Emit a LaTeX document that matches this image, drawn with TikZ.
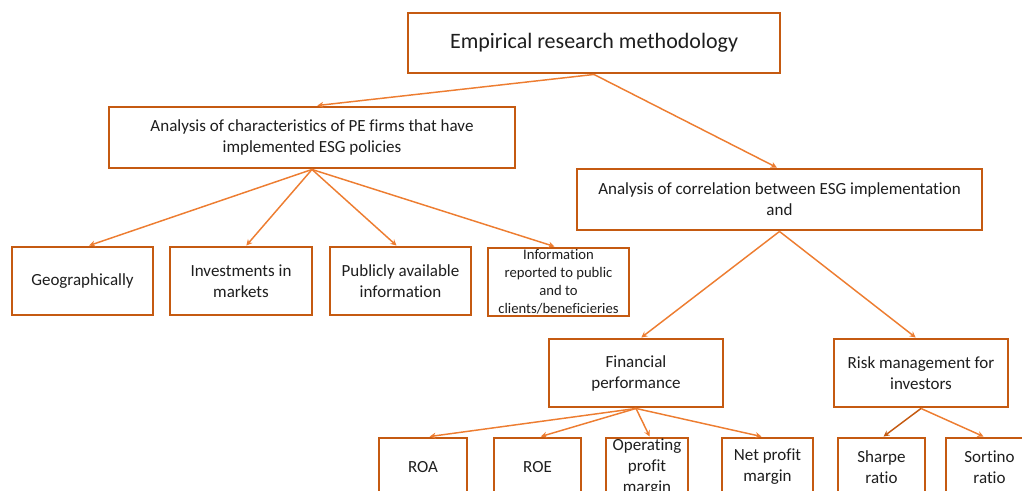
\documentclass[tikz,border=0pt]{standalone}
\usepackage{fontspec}
\setmainfont{Carlito}[Ligatures=NoCommon]
\usetikzlibrary{arrows.meta}
\definecolor{boxc}{RGB}{197,90,17}
\definecolor{arrc}{RGB}{237,125,49}
\definecolor{txtc}{RGB}{30,30,30}
\tikzset{
  bx/.style n args={2}{draw=boxc, line width=2.2pt, fill=white, text=txtc, align=center, inner sep=0pt,
    minimum width=#1*0.75pt, minimum height=#2*0.75pt,
    font={\fontsize{12.75}{15.75}\selectfont}},
  conn/.style={draw=arrc, line width=1.1pt, -{Stealth[length=4.5pt,width=4.5pt]}},
  darkconn/.style={conn, draw=boxc},
}
\begin{document}
\begin{tikzpicture}[x=0.75pt,y=-0.75pt]
\useasboundingbox (0,0) rectangle (1022,491);
\clip (0,0) rectangle (1022,491);
\node[bx={372}{60}, font={\fontsize{16.5}{20}\selectfont}] (top) at (594,43) {Empirical research methodology};
\node[bx={406}{61}] (a1) at (312,137.5) {Analysis of characteristics of PE firms that have\\implemented ESG policies};
\node[bx={405}{61}] (a2) at (779.5,199.5) {Analysis of correlation between ESG implementation\\and};
\node[bx={141}{68}] (geo) at (82.5,281) {Geographically};
\node[bx={142}{68}] (inv) at (241,281) {Investments in\\markets};
\node[bx={141}{68}] (pub) at (400.5,281) {Publicly available\\information};
\node[bx={141}{68}, font={\fontsize{11}{13.5}\selectfont}] (info) at (558.5,282) {Information\\reported to public\\and to\\clients/beneficieries};
\node[bx={174}{68}] (fin) at (636,373) {Financial\\performance};
\node[bx={174}{68}] (risk) at (921,373) {Risk management for\\investors};
\node[bx={88}{58}] (roa) at (423,467) {ROA};
\node[bx={87}{58}] (roe) at (537.5,467) {ROE};
\node[bx={82}{58}] (op) at (647,467) {Operating\\profit\\margin};
\node[bx={91}{58}] (net) at (767.5,467) {Net profit\\margin};
\node[bx={87}{58}] (sharpe) at (881.5,467) {Sharpe\\ratio};
\node[bx={87}{58}] (sortino) at (989.5,467) {Sortino\\ratio};

\draw[conn] (top.south) -- ([xshift=4]a1.north);
\draw[conn] (top.south) -- ([xshift=-2]a2.north);
\draw[conn] (a1.south) -- ([xshift=5]geo.north);
\draw[conn] (a1.south) -- ([xshift=4]inv.north);
\draw[conn] (a1.south) -- ([xshift=-3]pub.north);
\draw[conn] (a1.south) -- ([xshift=-3]info.north);
\draw[conn] (a2.south) -- ([xshift=4]fin.north);
\draw[conn] (a2.south) -- ([xshift=-4]risk.north);
\draw[conn] (fin.south) -- ([xshift=5]roa.north);
\draw[conn] (fin.south) -- ([xshift=2.5]roe.north);
\draw[conn] (fin.south) -- ([xshift=2]op.north);
\draw[conn] (fin.south) -- ([xshift=-4.5]net.north);
\draw[darkconn] (risk.south) -- ([xshift=1.5]sharpe.north);
\draw[conn] (risk.south) -- ([xshift=-4.5]sortino.north);
\end{tikzpicture}
\end{document}
